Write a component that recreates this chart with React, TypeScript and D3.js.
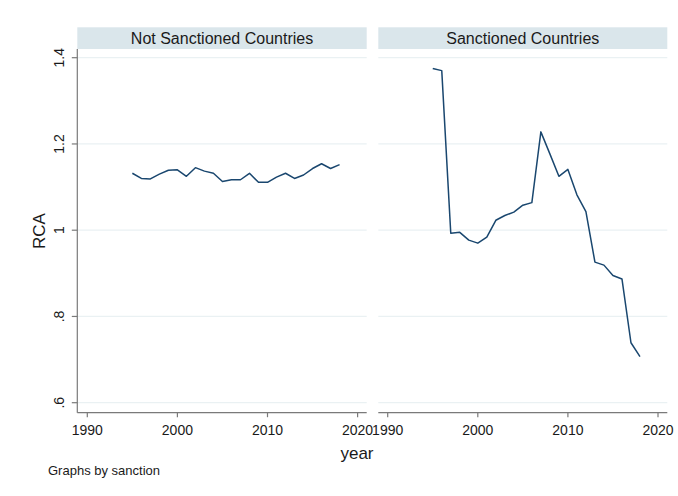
import React from "react";
import * as d3 from "d3";

// RCA by year, 1995–2018, split by sanction status
const years = d3.range(1995, 2019);
const notSanctioned = [
  1.132, 1.12, 1.119, 1.13, 1.139, 1.14, 1.125, 1.145, 1.137, 1.132, 1.113, 1.117,
  1.117, 1.132, 1.111, 1.111, 1.123, 1.132, 1.12, 1.128, 1.143, 1.154, 1.143, 1.152,
];
const sanctioned = [
  1.375, 1.37, 0.993, 0.995, 0.977, 0.97, 0.984, 1.023, 1.034, 1.042, 1.058, 1.064,
  1.228, 1.177, 1.125, 1.141, 1.082, 1.043, 0.926, 0.919, 0.895, 0.887, 0.739, 0.707,
];
const panelTitles = ["Not Sanctioned Countries", "Sanctioned Countries"];
const xTicks = [1990, 2000, 2010, 2020];
const yTicks = [0.6, 0.8, 1, 1.2, 1.4];
const yTickLabels = [".6", ".8", "1", "1.2", "1.4"];

const W = 678;
const H = 496;
const FONT = "'Liberation Sans', Arial, Helvetica, sans-serif";
const LINE = "#1a476f";
const AXIS = "#7a7a7a";
const GRID = "#eaf1f3";
const STRIP = "#dae6eb";

const headerTop = 27.3;
const plotTop = 49;
const plotBottom = 412.7;
const panels = [
  { left: 77.3, right: 366.7, tick0: 87.3, values: notSanctioned },
  { left: 378.3, right: 667.3, tick0: 387.7, values: sanctioned },
];

const y = d3.scaleLinear().domain([0.6, 1.4]).range([402.7, 57.7]);

export default function App() {
  return (
    <svg width={W} height={H} style={{ display: "block", position: "absolute", left: 0, top: 0, background: "#fff" }}>
      <rect width={W} height={H} fill="#fff" />
      {panels.map((p, i) => {
        const x = d3.scaleLinear().domain([1990, 2020]).range([p.tick0, p.tick0 + 270.3]);
        const line = d3
          .line<number>()
          .x((_, j) => x(years[j]))
          .y((v) => y(v));
        return (
          <g key={i}>
            <rect x={p.left} y={headerTop} width={p.right - p.left} height={plotTop - headerTop} fill={STRIP} />
            <text
              x={(p.left + p.right) / 2}
              y={44}
              textAnchor="middle"
              fontFamily={FONT}
              fontSize={16}
              fill="#1a1a1a"
            >
              {panelTitles[i]}
            </text>
            {yTicks.map((t) => (
              <line key={t} x1={p.left} x2={p.right} y1={y(t)} y2={y(t)} stroke={GRID} strokeWidth={1.2} />
            ))}
            <path d={line(p.values) ?? ""} fill="none" stroke={LINE} strokeWidth={1.5} strokeLinejoin="round" />
            <line x1={p.left} x2={p.right} y1={plotBottom} y2={plotBottom} stroke={AXIS} strokeWidth={1.2} />
            {xTicks.map((t) => (
              <g key={t}>
                <line x1={x(t)} x2={x(t)} y1={plotBottom} y2={plotBottom + 4.5} stroke={AXIS} strokeWidth={1.2} />
                <text x={x(t)} y={435} textAnchor="middle" fontFamily={FONT} fontSize={14} fill="#1a1a1a">
                  {t}
                </text>
              </g>
            ))}
            {i === 0 && (
              <g>
                <line x1={p.left} x2={p.left} y1={plotTop} y2={plotBottom} stroke={AXIS} strokeWidth={1.2} />
                {yTicks.map((t, k) => (
                  <g key={t}>
                    <line x1={p.left - 5.5} x2={p.left} y1={y(t)} y2={y(t)} stroke={AXIS} strokeWidth={1.2} />
                    <text
                      transform={`translate(64.3,${y(t)}) rotate(-90)`}
                      textAnchor="middle"
                      fontFamily={FONT}
                      fontSize={14}
                      fill="#1a1a1a"
                    >
                      {yTickLabels[k]}
                    </text>
                  </g>
                ))}
              </g>
            )}
          </g>
        );
      })}
      <text
        transform="translate(45,231) rotate(-90)"
        textAnchor="middle"
        fontFamily={FONT}
        fontSize={17}
        fill="#1a1a1a"
      >
        RCA
      </text>
      <text x={357} y={459} textAnchor="middle" fontFamily={FONT} fontSize={17} fill="#1a1a1a">
        year
      </text>
      <text x={48} y={475} fontFamily={FONT} fontSize={13} fill="#1a1a1a">
        Graphs by sanction
      </text>
    </svg>
  );
}
